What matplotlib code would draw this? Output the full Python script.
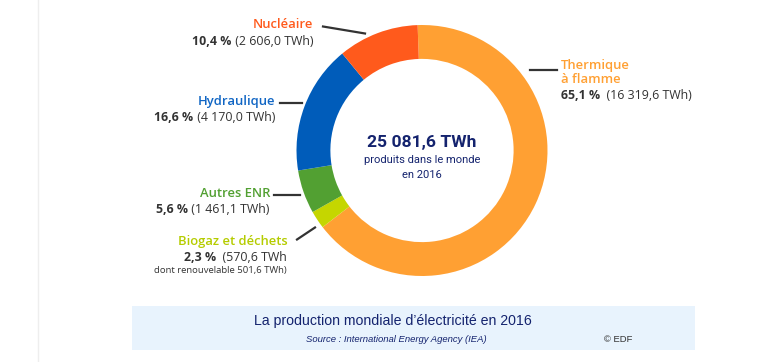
import matplotlib
matplotlib.use("Agg")
import matplotlib.pyplot as plt
from matplotlib import font_manager
from matplotlib.patches import Rectangle

# ---------- donnees ----------
labels = ["Thermique\nà flamme", "Biogaz et déchets", "Autres ENR", "Hydraulique", "Nucléaire"]
pcts   = [65.1, 2.3, 5.6, 16.6, 10.4]
twh    = ["16 319,6", "570,6", "1 461,1", "4 170,0", "2 606,0"]
total  = "25 081,6 TWh"
renouvelable = "501,6"

COLORS     = ["#FFA033", "#C5D600", "#52A032", "#005CBA", "#FF5A1C"]
LBL_COLORS = ["#FFA033", "#B5CC00", "#52A032", "#1166C4", "#FF5A1C"]
NAVY  = "#14236E"
GREY  = "#333333"

W, H = 783, 362
names = {f.name for f in font_manager.fontManager.ttflist}

def pick(*cands):
    for c in cands:
        if c in names:
            return c
    return "DejaVu Sans"

SANS   = pick("Open Sans", "Noto Sans", "DejaVu Sans")
NARROW = pick("Liberation Sans Narrow", "DejaVu Sans Condensed", "Roboto", "Lato")
ARIAL  = pick("Liberation Sans", "DejaVu Sans")

fig = plt.figure(figsize=(W / 100, H / 100), dpi=100)
ax = fig.add_axes([0, 0, 1, 1])

def py(y):
    # pixels depuis le haut -> coordonnees donnees
    return H - y

cx, cy, r = 422, py(150.5), 125.5
ax.pie(pcts, colors=COLORS, startangle=92, counterclock=False,
       center=(cx, cy), radius=r,
       wedgeprops=dict(width=r * 0.27, linewidth=0))
ax.set_xlim(0, W)
ax.set_ylim(0, H)
ax.set_aspect("auto")
ax.axis("off")

renderer = fig.canvas.get_renderer()

def width_of(t):
    return t.get_window_extent(renderer=renderer).width

def value_label(x, y, bold, rest, ha, size=8.9):
    if ha == "right":
        t = ax.text(x, py(y), rest, ha="right", va="center", fontsize=size,
                    color=GREY, family=SANS)
        ax.text(x - width_of(t), py(y), bold, ha="right", va="center",
                fontsize=size, color=GREY, family=SANS, fontweight="bold")
    else:
        t = ax.text(x, py(y), bold, ha="left", va="center", fontsize=size,
                    color=GREY, family=SANS, fontweight="bold")
        ax.text(x + width_of(t), py(y), rest, ha="left", va="center",
                fontsize=size, color=GREY, family=SANS)

def title_label(x, y, s, color, ha):
    ax.text(x, py(y), s, ha=ha, va="center", fontsize=9.4, color=color,
            family=SANS, fontweight="semibold")

def pct(v):
    return f"{v:.1f}".replace(".", ",") + " %"

# Thermique
title_label(561, 66, "Thermique", LBL_COLORS[0], "left")
title_label(561, 79.5, "à flamme", LBL_COLORS[0], "left")
value_label(561, 95.5, pct(pcts[0]), f"  ({twh[0]} TWh)", "left")
ax.plot([530, 557], [py(70), py(70)], color=GREY, lw=1.6)

# Biogaz
title_label(288, 241, labels[1], LBL_COLORS[1], "right")
value_label(287, 257.5, pct(pcts[1]), f"  ({twh[1]} TWh", "right")
ax.text(287, py(270.5), f"dont renouvelable {renouvelable} TWh)", ha="right",
        va="center", fontsize=6.8, color=GREY, family=SANS)
ax.plot([297, 315], [py(239.5), py(227.5)], color=GREY, lw=1.6)

# Autres ENR
title_label(270, 193.5, labels[2], LBL_COLORS[2], "right")
value_label(269, 209.5, pct(pcts[2]), f" ({twh[2]} TWh)", "right")
ax.plot([274, 300], [py(194.5), py(194.5)], color=GREY, lw=1.6)

# Hydraulique
title_label(275, 101.5, labels[3], LBL_COLORS[3], "right")
value_label(275, 117.5, pct(pcts[3]), f" ({twh[3]} TWh)", "right")
ax.plot([280, 302], [py(102.5), py(102.5)], color=GREY, lw=1.6)

# Nucleaire
title_label(313, 25, labels[4], LBL_COLORS[4], "right")
value_label(313, 41.5, pct(pcts[4]), f" ({twh[4]} TWh)", "right")
ax.plot([323, 365], [py(26.5), py(33.5)], color=GREY, lw=1.6)

# texte central
ax.text(cx, py(143), total, ha="center", va="center", fontsize=12.6,
        fontweight="bold", color=NAVY, family=NARROW)
ax.text(cx, py(160), "produits dans le monde", ha="center", va="center",
        fontsize=8.0, color=NAVY, family=NARROW)
ax.text(cx, py(175), "en 2016", ha="center", va="center",
        fontsize=8.0, color=NAVY, family=NARROW)

# bandeau titre
ax.add_patch(Rectangle((132, py(350)), 563, 44, facecolor="#E8F3FD",
                       edgecolor="none", zorder=0))
ax.text(393, py(321), "La production mondiale d\u2019électricité en 2016",
        ha="center", va="center", fontsize=10.2, color=NAVY, family=ARIAL)
ax.text(396, py(339), "Source : International Energy Agency (IEA)",
        ha="center", va="center", fontsize=6.8, style="italic", color=NAVY,
        family=ARIAL)
ax.text(618, py(339), "© EDF", ha="center", va="center", fontsize=6.8,
        color=GREY, family=ARIAL)

# fine ligne verticale a gauche
ax.plot([37.5, 37.5], [0, H], color="#EEEEEE", lw=1)

fig.savefig("out.png", dpi=100)
